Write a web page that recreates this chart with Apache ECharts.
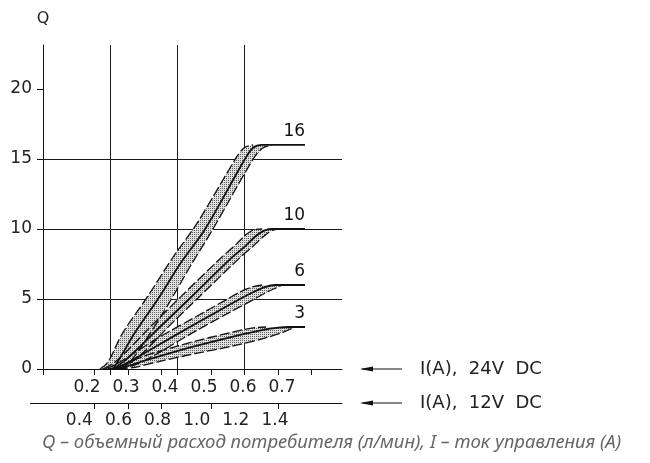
<!DOCTYPE html>
<html><head><meta charset="utf-8">
<script src="https://cdn.jsdelivr.net/npm/echarts@6/dist/echarts.min.js"></script>
<style>html,body{margin:0;padding:0;background:#fff}#c{width:650px;height:463px}</style>
</head><body><div id="c"></div>
<script>
// ---- tick labels / ticks ----
const yTicks = [0, 5, 10, 15, 20];
const xLabels24 = [0.2, 0.3, 0.4, 0.5, 0.6, 0.7];
const xLabels12 = [0.4, 0.6, 0.8, 1.0, 1.2, 1.4];
const xTicks24 = [0.218, 0.305, 0.390, 0.518, 0.690];
const xTicks12 = [0.475, 0.649, 0.817, 1.073, 1.416];
const gridCols = [0, 1, 2, 3, 4];
const curveNames = ['16', '10', '6', '3'];

// ---- curves: [I (A, 24V), Q (l/min)] ----
const c16Center = [[0.267,0],[0.285,0.8],[0.323,2.6],[0.382,5],[0.441,7.6],[0.503,10],[0.605,15],[0.626,15.8],[0.649,16],[0.759,16]];
const c16Upper  = [[0.233,0],[0.254,0.5],[0.290,2.5],[0.356,5.2],[0.421,8.0],[0.482,10.4],[0.585,15.2],[0.603,15.8],[0.626,16]];
const c16Lower  = [[0.285,0],[0.310,0.5],[0.349,2.0],[0.408,4.6],[0.464,7.3],[0.523,10],[0.626,15],[0.649,15.75],[0.674,16]];

const c10Center = [[0.267,0],[0.297,0.6],[0.336,1.6],[0.387,3.0],[0.462,5],[0.569,7.9],[0.603,8.7],[0.633,9.5],[0.656,9.9],[0.677,10],[0.759,10]];
const c10Upper  = [[0.241,0],[0.272,0.5],[0.310,1.5],[0.362,3.0],[0.438,5.1],[0.546,8.0],[0.582,8.9],[0.608,9.6],[0.628,9.95],[0.649,10]];
const c10Lower  = [[0.279,0],[0.305,0.3],[0.349,1.3],[0.408,3.0],[0.482,5],[0.590,7.9],[0.623,8.7],[0.654,9.5],[0.674,9.9],[0.695,10]];

const c6Center = [[0.267,0],[0.297,0.35],[0.336,0.95],[0.426,2.4],[0.515,3.8],[0.592,5.0],[0.631,5.55],[0.656,5.85],[0.682,6],[0.759,6]];
const c6Upper  = [[0.246,0],[0.272,0.3],[0.310,0.95],[0.387,2.3],[0.477,3.7],[0.554,4.9],[0.592,5.5],[0.623,5.85],[0.649,6]];
const c6Lower  = [[0.279,0],[0.323,0.3],[0.374,1.0],[0.459,2.4],[0.546,3.75],[0.623,4.9],[0.659,5.45],[0.685,5.8],[0.700,6]];

const c3Center = [[0.267,0],[0.297,0.15],[0.336,0.5],[0.433,1.3],[0.515,1.9],[0.603,2.5],[0.649,2.78],[0.685,2.94],[0.721,3],[0.759,3]];
const c3Upper  = [[0.254,0],[0.285,0.2],[0.336,0.82],[0.433,1.65],[0.515,2.25],[0.603,2.82],[0.633,2.96],[0.659,3]];
const c3Lower  = [[0.279,0],[0.323,0.12],[0.387,0.55],[0.477,1.1],[0.567,1.6],[0.649,2.15],[0.695,2.55],[0.721,2.85],[0.736,3]];

const centers = [c16Center, c10Center, c6Center, c3Center];
const uppers = [c16Upper, c10Upper, c6Upper, c3Upper];
const lowers = [c16Lower, c10Lower, c6Lower, c3Lower];

// stipple pattern
const pc = document.createElement('canvas');
pc.width = 2; pc.height = 2;
const pctx = pc.getContext('2d');
pctx.fillStyle = '#e0e0e0'; pctx.fillRect(0, 0, 2, 2);
pctx.fillStyle = '#5e5e5e'; pctx.fillRect(0, 0, 1, 1);
const pattern = { image: pc, repeat: 'repeat' };

const FONT = 'DejaVu Sans';
const INK = '#111';

const series = [];
uppers.forEach((up, i) => {
  const lo = lowers[i];
  series.push({
    type: 'custom', coordinateSystem: 'cartesian2d', xAxisIndex: 0, yAxisIndex: 0,
    silent: true, z: 1, data: [[0.5, 1]],
    renderItem: (params, api) => {
      const pts = up.map(p => api.coord(p)).concat(lo.slice().reverse().map(p => api.coord(p)));
      return { type: 'polygon', shape: { points: pts }, style: { fill: pattern, stroke: null } };
    }
  });
});
[uppers, lowers].forEach(group => group.forEach(d => {
  series.push({
    type: 'line', data: d, showSymbol: false, smooth: 0.3, silent: true, z: 3,
    lineStyle: { color: INK, width: 1.3, type: [10, 3] }
  });
}));
centers.forEach((d, i) => {
  series.push({
    type: 'line', name: curveNames[i], data: d, showSymbol: false, smooth: 0.3, silent: true, z: 4,
    lineStyle: { color: INK, width: 1.8 },
    endLabel: { show: true, formatter: () => curveNames[i], align: 'right', verticalAlign: 'bottom',
      distance: 0, offset: [0, -5], fontSize: 17, color: INK, fontFamily: FONT }
  });
});

const axisText = { fontSize: 17, color: '#222', fontFamily: FONT };
const nameText = { fontSize: 18, color: '#222', fontFamily: FONT, align: 'left', verticalAlign: 'middle' };

const option = {
  animation: false,
  backgroundColor: '#fff',
  grid: { left: 43, top: 45, right: 308, bottom: 94, containLabel: false },
  title: {
    text: 'Q – объемный расход потребителя (л/мин), I – ток управления (A)',
    left: 42, top: 433, padding: 0,
    textStyle: { fontFamily: 'Noto Sans', fontStyle: 'italic', fontWeight: 'normal', fontSize: 18.5, color: '#666' }
  },
  xAxis: [
    {
      type: 'value', min: 0.0872, max: 0.8538, position: 'bottom', offset: 0,
      axisLine: { show: true, onZero: false, lineStyle: { color: INK, width: 1 } },
      axisTick: { show: true, customValues: xTicks24, length: 6, lineStyle: { color: INK } },
      axisLabel: Object.assign({ customValues: xLabels24, formatter: v => v.toFixed(1), margin: 10 }, axisText),
      splitLine: { show: false },
      name: 'I(A),  24V  DC', nameLocation: 'end', nameGap: 78, nameTextStyle: nameText
    },
    {
      type: 'value', min: 0.214, max: 1.743, position: 'bottom', offset: 34,
      axisLine: { show: true, onZero: false, lineStyle: { color: INK, width: 1 } },
      axisTick: { show: true, customValues: xTicks12, length: 6, lineStyle: { color: INK } },
      axisLabel: Object.assign({ customValues: xLabels12, formatter: v => v.toFixed(1), margin: 9 }, axisText),
      splitLine: { show: false },
      name: 'I(A),  12V  DC', nameLocation: 'end', nameGap: 78, nameTextStyle: nameText
    },
    {
      type: 'value', min: 0, max: 4.4627, interval: 1, position: 'bottom', offset: 0,
      axisLine: { show: false, onZero: false },
      axisTick: { show: true, customValues: gridCols, length: 6, lineStyle: { color: INK } },
      axisLabel: { show: false },
      splitLine: { show: true, showMaxLine: false, lineStyle: { color: '#1a1a1a', width: 1 } }
    }
  ],
  yAxis: {
    type: 'value', min: 0, max: 23.14, interval: 5,
    axisLine: { show: true, lineStyle: { color: INK, width: 1 } },
    axisTick: { show: true, customValues: yTicks, length: 6, lineStyle: { color: INK } },
    axisLabel: Object.assign({ customValues: yTicks, margin: 11 }, axisText),
    splitLine: { show: true, showMaxLine: false, lineStyle: { color: '#1a1a1a', width: 1 } },
    name: 'Q', nameLocation: 'end', nameGap: 18,
    nameTextStyle: Object.assign({}, axisText, { fontSize: 16, align: 'center' })
  },
  graphic: [
    { type: 'line', shape: { x1: 30, y1: 403.5, x2: 50, y2: 403.5 }, style: { stroke: INK, lineWidth: 1 } },
    { type: 'line', shape: { x1: 362, y1: 369, x2: 402, y2: 369 }, style: { stroke: INK, lineWidth: 1.2 } },
    { type: 'polygon', shape: { points: [[360, 369], [373, 366.5], [373, 371.5]] }, style: { fill: INK } },
    { type: 'line', shape: { x1: 362, y1: 403, x2: 402, y2: 403 }, style: { stroke: INK, lineWidth: 1.2 } },
    { type: 'polygon', shape: { points: [[360, 403], [373, 400.5], [373, 405.5]] }, style: { fill: INK } }
  ],
  series: series
};

const chart = echarts.init(document.getElementById('c'), null, { renderer: 'canvas' });
chart.setOption(option);
</script>
</body></html>
